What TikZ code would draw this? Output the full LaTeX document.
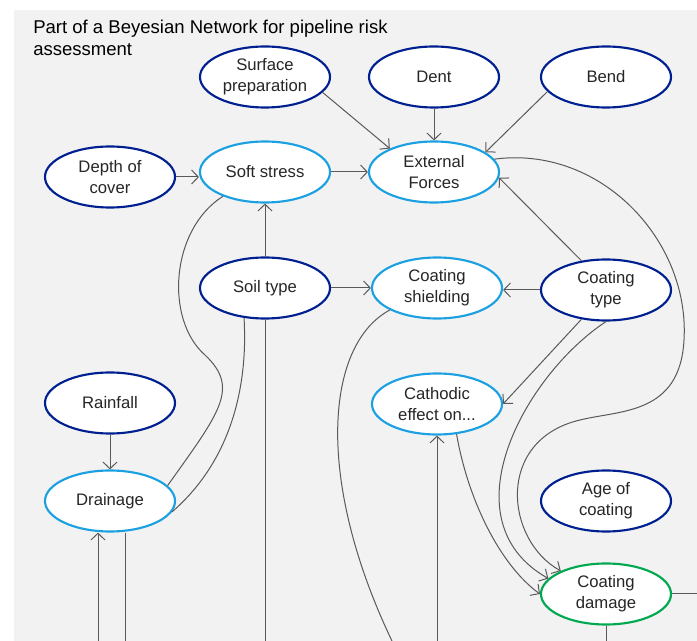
\documentclass[tikz,border=0pt]{standalone}
\usepackage{fontspec}
\setmainfont{Liberation Sans}
\usetikzlibrary{shapes.geometric, arrows.meta}

\definecolor{bgGray}{RGB}{242,242,242}
\definecolor{darkBlue}{RGB}{0,32,145}
\definecolor{lightBlue}{RGB}{27,161,226}
\definecolor{dmgGreen}{RGB}{0,168,80}
\definecolor{edgeGray}{RGB}{89,89,89}
\definecolor{txtGray}{RGB}{38,38,38}

\begin{document}
\begin{tikzpicture}[x=0.75pt,y=0.75pt,yscale=-1,xscale=1,
  bnnode/.style={ellipse, draw, fill=white, line width=1.6pt, minimum width=97.5pt, minimum height=45.75pt, inner sep=0pt, align=center, text=txtGray, font=\fontsize{12.5}{15.5}\selectfont},
  obsnode/.style={bnnode, draw=darkBlue},
  hidnode/.style={bnnode, draw=lightBlue},
  goalnode/.style={bnnode, draw=dmgGreen},
  plainline/.style={draw=edgeGray, line width=0.75pt},
  arrline/.style={plainline, -{Straight Barb[length=5pt,width=10.5pt]}}]
\useasboundingbox (0,0) rectangle (697,641);
%Shape: Background
\fill[bgGray] (14,10) rectangle (697,641);

% Text Node
\node[anchor=north west, align=left, inner sep=0pt, font=\fontsize{13.9}{16.5}\selectfont] (title) at (33,20) {Part of a Beyesian Network for pipeline risk\\assessment};

% Nodes: first row
\node[obsnode] (surf) at (265,77) {Surface\\preparation};
\node[obsnode] (dent) at (434,77) {Dent};
\node[obsnode] (bend) at (606,77) {Bend};
% Nodes: second row
\node[obsnode] (depth) at (110,177) {Depth of\\cover};
\node[hidnode] (soft) at (265,172) {Soft stress};
\node[hidnode] (ext) at (434,172) {External\\Forces};
% Nodes: third row
\node[obsnode] (soil) at (265,288) {Soil type};
\node[hidnode] (shield) at (437,288) {Coating\\shielding};
\node[obsnode] (ctype) at (606,290) {Coating\\type};
% Nodes: lower part
\node[obsnode] (rain) at (110,403) {Rainfall};
\node[hidnode] (cath) at (437,404) {Cathodic\\effect on...};
\node[hidnode] (drain) at (110,501) {Drainage};
\node[obsnode] (age) at (606,501) {Age of\\coating};
\node[goalnode] (damage) at (606,594) {Coating\\damage};

% free ends at the border of the picture
\coordinate (drainIn) at (98,641);
\coordinate (drainOut) at (125,641);
\coordinate (soilOut) at (265,641);
\coordinate (shieldOut) at (392,641);
\coordinate (cathIn) at (437,641);
\coordinate (damageDown) at (606,641);
\coordinate (damageRight) at (697,594);

%Straight Lines
\draw[arrline] (surf.-15) -- (ext.152);
\draw[arrline] (dent) -- (ext);
\draw[arrline] (bend.194) -- (ext.21);
\draw[arrline] (depth.east) -- (depth.east -| soft.west);
\draw[arrline] (soft) -- (ext);
\draw[arrline] (soil) -- (soft);
\draw[arrline] (soil) -- (shield);
\draw[arrline] (ctype.west) -- (ctype.west -| shield.east);
\draw[arrline] (ctype.130) -- (ext.-5);
\draw[arrline] (ctype.-130) -- (cath.east);
\draw[arrline] (rain) -- (drain);
\draw[arrline] (drainIn) -- (drainIn |- drain.south);
\draw[plainline] (drainOut |- drain.south) -- (drainOut);
\draw[plainline] (soil) -- (soilOut);
\draw[arrline] (cathIn) -- (cath);
\draw[plainline] (damage) -- (damageRight);
\draw[plainline] (damage) -- (damageDown);

%Curve Lines
\draw[plainline] (soft.210) .. controls (170,230) and (165,320) .. (205,355) .. controls (240,388) and (220,412) .. (drain.15);
\draw[plainline] (soil.235) .. controls (248,385) and (232,460) .. (drain.-10);
\draw[plainline] (shield.205) .. controls (325,345) and (315,480) .. (shieldOut);
\draw[arrline] (ctype.south) .. controls (525,375) and (445,520) .. (damage.165);
\draw[arrline] (cath.-57) .. controls (468,500) and (500,565) .. (damage.west);
\draw[arrline] (ext.12) .. controls (600,145) and (690,240) .. (684,340) .. controls (680,415) and (620,410) .. (580,420) .. controls (495,440) and (505,540) .. (damage.153);

\end{tikzpicture}
\end{document}
